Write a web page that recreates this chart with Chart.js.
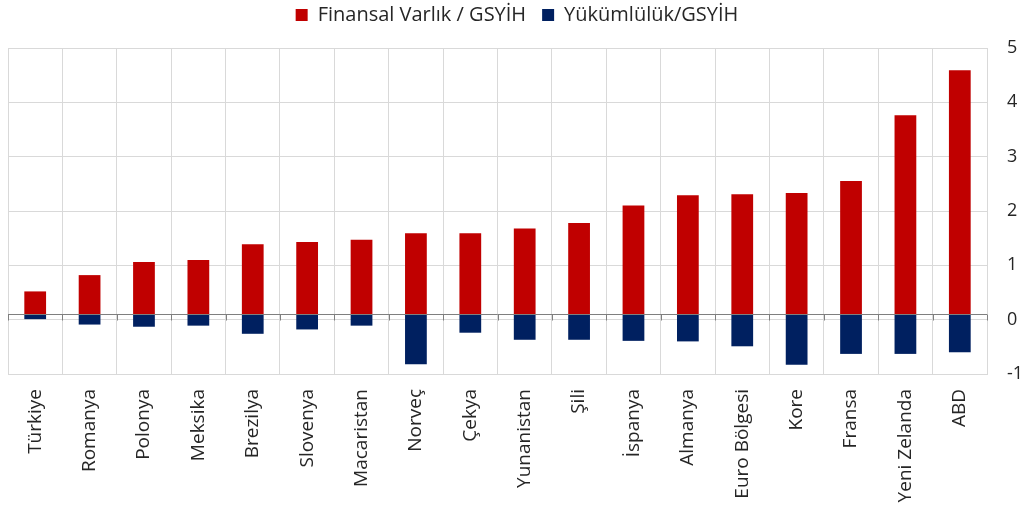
<!DOCTYPE html>
<html>
<head>
<meta charset="utf-8">
<script src="https://cdn.jsdelivr.net/npm/chart.js@4"></script>
<style>
  body { margin: 0; background: #fff; }
  #wrap { width: 1026px; height: 514px; }
</style>
</head>
<body>
<div id="wrap"><canvas id="varlikChart" width="1026" height="514"></canvas></div>
<script>
const countries = ['Türkiye', 'Romanya', 'Polonya', 'Meksika', 'Brezilya', 'Slovenya', 'Macaristan', 'Norveç', 'Çekya',
    'Yunanistan', 'Şili', 'İspanya', 'Almanya', 'Euro Bölgesi', 'Kore', 'Fransa', 'Yeni Zelanda', 'ABD'];
const assets = [0.52, 0.82, 1.06, 1.10, 1.39, 1.43, 1.47, 1.59, 1.59, 1.68, 1.78, 2.10, 2.29, 2.31, 2.33, 2.55, 3.76, 4.59];
const liabilities = [0.01, -0.09, -0.13, -0.11, -0.26, -0.18, -0.11, -0.82, -0.24, -0.37, -0.37, -0.39, -0.40, -0.49, -0.83, -0.63, -0.63, -0.60];
const yTicks = [-1, 0, 1, 2, 3, 4, 5];
// horizontal axis crosses slightly above zero in the original
const axisCross = 0.1;

Chart.defaults.font.family = "'Open Sans', sans-serif";
Chart.defaults.color = '#262626';

// fixed legend height so the plot starts where it should,
// and pull the legend row up a bit (wide item spacing needs a big padding)
const legendHeight = {
    id: 'legendHeight',
    beforeInit(chart) {
        const fit = chart.legend.fit;
        chart.legend.fit = function () {
            fit.bind(chart.legend)();
            this.height = 48;
        };
    },
    beforeDraw(chart) {
        chart.legend.top = -11;
    }
};

// dark horizontal axis line with small tick marks
const crossLine = {
    id: 'crossLine',
    afterDatasetsDraw(chart) {
        const { ctx, chartArea, scales } = chart;
        const y = Math.round(scales.y.getPixelForValue(axisCross)) + 0.5;
        const half = (scales.x.getPixelForValue(1) - scales.x.getPixelForValue(0)) / 2;
        ctx.save();
        ctx.strokeStyle = '#7f7f7f';
        ctx.lineWidth = 1;
        ctx.beginPath();
        ctx.moveTo(chartArea.left, y);
        ctx.lineTo(chartArea.right, y);
        for (let i = 0; i <= countries.length; i++) {
            const x = Math.round(i === countries.length ? chartArea.right : scales.x.getPixelForValue(i) - half) + 0.5;
            ctx.moveTo(x, y);
            ctx.lineTo(x, y + 6);
        }
        ctx.stroke();
        ctx.restore();
    }
};

const ctx = document.getElementById('varlikChart').getContext('2d');
new Chart(ctx, {
    type: 'bar',
    data: {
        labels: countries,
        datasets: [{
            label: 'Finansal Varlık / GSYİH',
            backgroundColor: '#c00000',
            data: assets.map(v => [axisCross, v]),
            grouped: false
        }, {
            label: 'Yükümlülük/GSYİH',
            backgroundColor: '#002060',
            data: liabilities.map(v => [axisCross, v]),
            grouped: false
        }]
    },
    options: {
        responsive: false,
        animation: false,
        layout: { padding: { left: 8, right: 0, top: 0, bottom: 0 } },
        barPercentage: 0.4,
        categoryPercentage: 1,
        plugins: {
            legend: {
                position: 'top',
                labels: {
                    boxWidth: 12,
                    boxHeight: 12,
                    padding: 16,
                    font: { size: 20 }
                }
            },
            tooltip: { enabled: false }
        },
        scales: {
            x: {
                grid: { color: '#d9d9d9', drawTicks: false, offset: true },
                border: { color: '#d9d9d9' },
                ticks: { minRotation: 90, maxRotation: 90, padding: 15, font: { size: 19 }, autoSkip: false },
                afterFit(scale) { scale.height = 140; }
            },
            y: {
                position: 'right',
                min: -1,
                max: 5,
                afterBuildTicks(scale) { scale.ticks = yTicks.map(v => ({ value: v })); },
                grid: { color: '#d9d9d9', drawTicks: false },
                border: { color: '#d9d9d9' },
                ticks: { padding: 20, font: { size: 18 } },
                afterFit(scale) { scale.width = 39; }
            }
        }
    },
    plugins: [legendHeight, crossLine]
});
</script>
</body>
</html>
